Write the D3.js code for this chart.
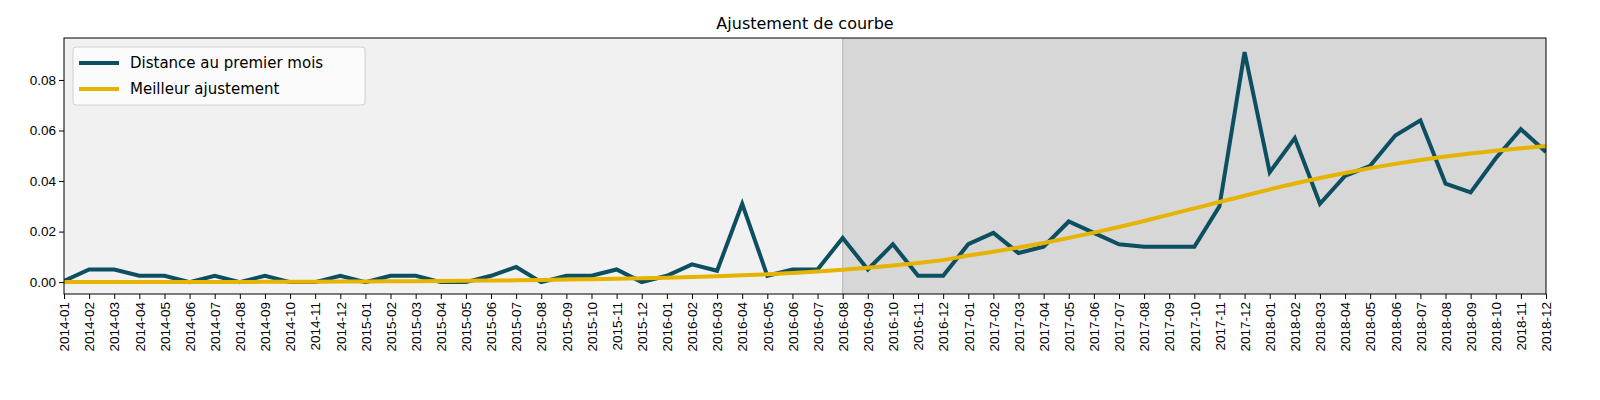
<!DOCTYPE html>
<html>
<head>
<meta charset="utf-8">
<script src="https://d3js.org/d3.v7.min.js"></script>
<style>
  body { margin: 0; background: #fff; }
  svg { font-family: "DejaVu Sans", sans-serif; }
</style>
</head>
<body>
<svg id="chart" width="1600" height="400"></svg>
<script>
// months 2014-01 .. 2018-12
var months = [];
[2014, 2015, 2016, 2017, 2018].forEach(function(y) {
  for (var m = 1; m <= 12; m++) months.push(y + "-" + (m < 10 ? "0" + m : m));
});

var distance = [
  0.0005, 0.005, 0.005, 0.0025, 0.0025, 0.0, 0.0025, 0.0, 0.0025, 0.0, 0.0, 0.0025,
  0.0, 0.0025, 0.0025, 0.0, 0.0, 0.0025, 0.006, 0.0, 0.0025, 0.0025, 0.005, 0.0,
  0.0025, 0.007, 0.0045, 0.031, 0.0025, 0.005, 0.005, 0.0175, 0.005, 0.015, 0.0025, 0.0025,
  0.015, 0.0195, 0.0115, 0.014, 0.024, 0.0195, 0.015, 0.014, 0.014, 0.014, 0.03, 0.091,
  0.0435, 0.057, 0.031, 0.042, 0.046, 0.058, 0.064, 0.039, 0.0355, 0.049, 0.0605, 0.0515
];

var fit = [
  0, 0, 0, 0, 0, 0, 0, 0, 0.0001, 0.0001, 0.0001, 0.0002,
  0.0002, 0.0003, 0.0003, 0.0004, 0.0005, 0.0006, 0.0007, 0.0008, 0.001, 0.0011, 0.0013, 0.0015,
  0.0017, 0.002, 0.0023, 0.0027, 0.0031, 0.0036, 0.0042, 0.0049, 0.0057, 0.0066, 0.0076, 0.0087,
  0.0105, 0.012, 0.0137, 0.0155, 0.0175, 0.0196, 0.0218, 0.0242, 0.0267, 0.0292, 0.0317, 0.0342,
  0.0367, 0.039, 0.0412, 0.0432, 0.0451, 0.0468, 0.0483, 0.0497, 0.0509, 0.052, 0.053, 0.0539
];

var yTicks = [0, 0.02, 0.04, 0.06, 0.08];
var splitMonth = "2016-08";
var legendLabels = ["Distance au premier mois", "Meilleur ajustement"];
var colors = ["#0b4f61", "#e5b300"];

var svg = d3.select("#chart");
var pLeft = 64, pRight = 1546, pTop = 38, pBottom = 294;

var x = d3.scalePoint().domain(months).range([pLeft, pRight]);
var y = d3.scaleLinear().domain([-0.0047, 0.0966]).range([pBottom, pTop]);

// backgrounds
svg.append("rect").attr("x", pLeft).attr("y", pTop)
  .attr("width", x(splitMonth) - pLeft).attr("height", pBottom - pTop).attr("fill", "#f1f1f1");
svg.append("rect").attr("x", x(splitMonth)).attr("y", pTop)
  .attr("width", pRight - x(splitMonth)).attr("height", pBottom - pTop).attr("fill", "#d7d7d7");
svg.append("line").attr("x1", x(splitMonth)).attr("x2", x(splitMonth))
  .attr("y1", pTop).attr("y2", pBottom).attr("stroke", "#bbbbbb").attr("stroke-width", 1.2);

svg.append("clipPath").attr("id", "clip").append("rect")
  .attr("x", pLeft).attr("y", pTop).attr("width", pRight - pLeft).attr("height", pBottom - pTop);

var line = d3.line().x(function(d, i) { return x(months[i]); }).y(function(d) { return y(d); });

var g = svg.append("g").attr("clip-path", "url(#clip)");
g.append("path").datum(distance).attr("d", line).attr("fill", "none")
  .attr("stroke", colors[0]).attr("stroke-width", 4);
g.append("path").datum(fit).attr("d", line).attr("fill", "none")
  .attr("stroke", colors[1]).attr("stroke-width", 4);

// frame
svg.append("rect").attr("x", pLeft).attr("y", pTop).attr("width", pRight - pLeft)
  .attr("height", pBottom - pTop).attr("fill", "none").attr("stroke", "#000").attr("stroke-width", 1);

// axes
var xAxis = svg.append("g").attr("transform", "translate(0," + pBottom + ")")
  .call(d3.axisBottom(x).tickSizeOuter(0).tickSize(5));
xAxis.select(".domain").remove();
xAxis.selectAll("text").attr("font-size", 13.5).attr("fill", "#000")
  .attr("transform", "rotate(-90)").attr("text-anchor", "end")
  .attr("x", -8).attr("y", 0).attr("dy", "0.35em");

var yAxis = svg.append("g").attr("transform", "translate(" + pLeft + ",0)")
  .call(d3.axisLeft(y).tickValues(yTicks).tickFormat(d3.format(".2f")).tickSize(5));
yAxis.select(".domain").remove();
yAxis.selectAll("text").attr("font-size", 13.5).attr("fill", "#000");

svg.append("text").attr("x", (pLeft + pRight) / 2).attr("y", 29)
  .attr("text-anchor", "middle").attr("font-size", 16).text("Ajustement de courbe");

// legend
var lg = svg.append("g");
lg.append("rect").attr("x", 73).attr("y", 47).attr("width", 292).attr("height", 58)
  .attr("rx", 3).attr("fill", "#fbfbfb").attr("stroke", "#d0d0d0");
legendLabels.forEach(function(t, i) {
  var yy = 63 + i * 26;
  lg.append("line").attr("x1", 79).attr("x2", 119).attr("y1", yy).attr("y2", yy)
    .attr("stroke", colors[i]).attr("stroke-width", 4);
  lg.append("text").attr("x", 130).attr("y", yy).attr("dy", "0.35em")
    .attr("font-size", 15).text(t);
});
</script>
</body>
</html>
